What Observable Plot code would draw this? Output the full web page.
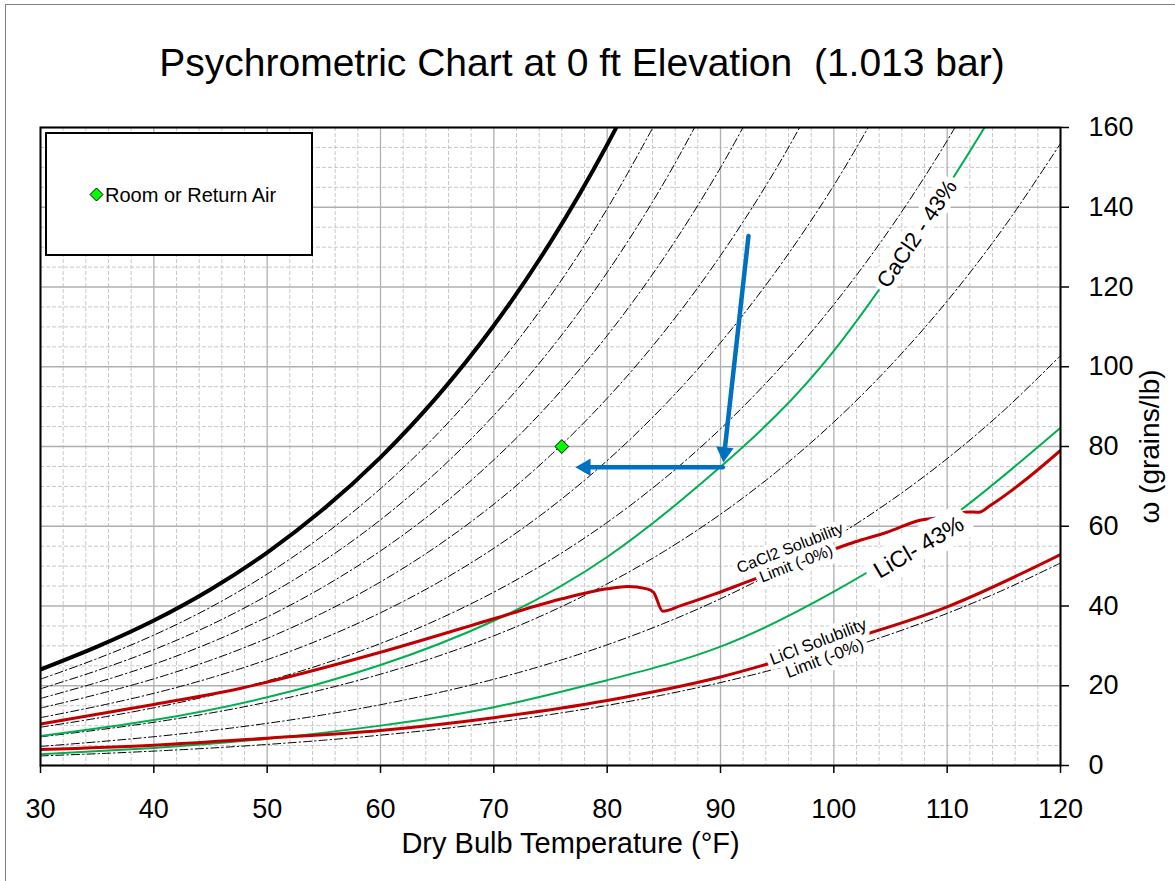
<!DOCTYPE html>
<html>
<head>
<meta charset="utf-8">
<script src="https://cdn.jsdelivr.net/npm/d3@7"></script>
<script src="https://cdn.jsdelivr.net/npm/@observablehq/plot@0.6"></script>
<style>
  html, body { margin: 0; padding: 0; background: #fff; }
  #wrap { position: relative; width: 1175px; height: 881px; overflow: hidden; font-family: "Liberation Sans", Arial, sans-serif; }
  #border { position: absolute; left: 5px; top: 4px; width: 1200px; height: 1000px; border-top: 1.5px solid #808080; border-left: 1.5px solid #808080; pointer-events: none; }
  #title { position: relative; height: 100px; }
  #title span { position: absolute; left: 0; width: 1164px; top: 43px; text-align: center; font-size: 39px; line-height: 39px; color: #000; white-space: pre; }
  #legend { position: absolute; left: 45px; top: 132px; width: 264px; height: 120px; border: 2.5px solid #000; background: #fff; z-index: 2; }
  #legend .item { position: absolute; left: 42px; top: 49px; font-size: 20px; line-height: 24px; color: #000; white-space: nowrap; }
  #legend svg { vertical-align: middle; margin-right: 1px; position: relative; top: -2px; }
  #chart svg { display: block; }
</style>
</head>
<body>
<div id="wrap">
  <div id="border"></div>
  <div id="title"><span>Psychrometric Chart at 0 ft Elevation  (1.013 bar)</span></div>
  <div id="chart"></div>
  <div id="legend"><div class="item"><svg width="15" height="15" viewBox="0 0 15 15"><path d="M7.5 1 L14 7.5 L7.5 14 L1 7.5 Z" fill="#00ff00" stroke="#000" stroke-width="1"/></svg>Room or Return Air</div></div>
</div>
<script>
// ---------- data ----------
const titleText = "Psychrometric Chart at 0 ft Elevation  (1.013 bar)";
const xLabel = "Dry Bulb Temperature (°F)";
const yLabel = "ω (grains/lb)";
const xTicks = [30, 40, 50, 60, 70, 80, 90, 100, 110, 120];
const yTicks = [0, 20, 40, 60, 80, 100, 120, 140, 160];

// dry-bulb temperatures (°F) for the relative-humidity lines
const temps = [30, 35, 40, 45, 50, 55, 60, 65, 70, 75, 80, 85, 90, 95, 100, 105, 110, 115, 120];
// humidity ratio (grains/lb) along each RH line
const rh10 = [2.40, 2.96, 3.61, 4.37, 5.28, 6.35, 7.61, 9.08, 10.79, 12.78, 15.08, 17.74, 20.80, 24.32, 28.34, 32.93, 38.15, 44.07, 50.79];
const rh20 = [4.79, 5.93, 7.22, 8.76, 10.58, 12.72, 15.24, 18.19, 21.63, 25.63, 30.27, 35.63, 41.81, 48.91, 57.05, 66.36, 76.96, 89.03, 102.78];
const rh30 = [7.19, 8.90, 10.84, 13.15, 15.89, 19.11, 22.90, 27.34, 32.52, 38.56, 45.56, 53.66, 63.01, 73.78, 86.13, 100.30, 116.47, 134.94, 156.00];
const rh40 = [9.60, 11.87, 14.47, 17.55, 21.21, 25.52, 30.59, 36.53, 43.47, 51.56, 60.96, 71.85, 84.42, 98.92, 115.61, 134.76, 156.70, 181.79];
const rh50 = [12.00, 14.85, 18.10, 21.96, 26.54, 31.95, 38.30, 45.76, 54.48, 64.64, 76.47, 90.18, 106.03, 124.36, 145.48, 169.76];
const rh60 = [14.41, 17.83, 21.74, 26.38, 31.89, 38.39, 46.04, 55.03, 65.54, 77.80, 92.08, 108.66, 127.87, 150.09, 175.74];
const rh70 = [16.82, 20.82, 25.39, 30.81, 37.25, 44.86, 53.81, 64.34, 76.65, 91.04, 107.81, 127.30, 149.91, 176.11];
const rh80 = [19.24, 23.81, 29.04, 35.24, 42.63, 51.34, 61.61, 73.69, 87.82, 104.36, 123.65, 146.10, 172.18];
const rh90 = [21.65, 26.80, 32.70, 39.69, 48.01, 57.85, 69.43, 83.07, 99.05, 117.76, 139.61, 165.06];
const rh100 = [24.07, 29.80, 36.36, 44.14, 53.41, 64.37, 77.28, 92.50, 110.33, 131.24, 155.67, 184.17];

// CaCl2 - 43% equilibrium (green, upper)
const caCl2Temps = [30, 40, 50, 60, 70, 80, 90, 100, 110, 115];
const caCl2Omega = [7.4, 11.4, 17.1, 25.2, 36.3, 52.3, 74.9, 104.0, 145.0, 168.0];
// LiCl - 43% equilibrium (green, lower)
const liClTemps = [30, 40, 50, 60, 70, 80, 90, 100, 110, 120];
const liClOmega = [2.8, 4.4, 6.7, 10.0, 14.6, 21.4, 29.8, 43.6, 61.5, 84.7];
// CaCl2 solubility limit (red, upper)
const caSolTemps = [30, 40, 47.6, 50, 60, 70, 76, 80, 81.8, 83.5, 84.1, 84.9, 86.5, 89.4, 92.4, 97, 101.9, 104.7, 107.6, 110, 111.8, 112.8, 113.8, 116.8, 120];
const caSolOmega = [10.4, 15.3, 19.3, 20.9, 28.4, 36.8, 41.8, 44.3, 44.9, 44.3, 43.4, 38.7, 40.1, 42.9, 46.1, 51.0, 56.1, 58.5, 61.5, 62.4, 63.6, 63.5, 65.2, 71.4, 79.0];
// LiCl solubility limit (red, lower)
const liSolTemps = [30, 40, 50, 60, 70, 80, 90, 100, 110, 120];
const liSolOmega = [4.0, 5.1, 6.85, 8.8, 12.0, 16.3, 22.2, 30.5, 39.8, 52.9];

// room / return air point
const roomT = [76];
const roomW = [80];
// process arrows (start -> end)
const arrowX1 = [92.47, 90.2];
const arrowY1 = [132.8, 74.8];
const arrowX2 = [90.25, 77.2];
const arrowY2 = [76.0, 74.8];

// curve labels
const labelTexts = ["CaCl2 - 43%", "LiCl- 43%", "CaCl2 Solubility\nLimit (-0%)", "LiCl Solubility\nLimit (-0%)"];
const labelT = [107.35, 107.5, 96.4, 98.9];
const labelW = [133.3, 54.7, 52.6, 29.0];

// ---------- build tables ----------
const rhSets = [["10%", rh10], ["20%", rh20], ["30%", rh30], ["40%", rh40], ["50%", rh50], ["60%", rh60], ["70%", rh70], ["80%", rh80], ["90%", rh90]];
const rhRows = rhSets.flatMap(([rh, ws]) => ws.map((w, i) => ({rh, t: temps[i], w})));
const satRows = rh100.map((w, i) => ({t: temps[i], w}));
const zip = (ts, ws) => ts.map((t, i) => ({t, w: ws[i]}));
const caCl2Rows = zip(caCl2Temps, caCl2Omega);
const liClRows = zip(liClTemps, liClOmega);
const caSolRows = zip(caSolTemps, caSolOmega);
const liSolRows = zip(liSolTemps, liSolOmega);
const roomRows = zip(roomT, roomW);
const arrows = arrowX1.map((x1, i) => ({x1, y1: arrowY1[i], x2: arrowX2[i], y2: arrowY2[i]}));
const labels = labelTexts.map((text, i) => ({text, t: labelT[i], w: labelW[i]}));

const minorX = d3.range(30, 121, 2).filter(d => d % 10 !== 0);
const minorY = d3.range(0, 161, 5).filter(d => d % 20 !== 0);

const blue = "#0070C0";
const green = "#00B050";
const red = "#C00000";
const halo = {fill: "black", stroke: "white", strokeLinejoin: "round", textAnchor: "middle", lineAnchor: "middle"};

const chart = Plot.plot({
  width: 1175,
  height: 781,
  marginTop: 27,
  marginBottom: 116,
  marginLeft: 40,
  marginRight: 115,
  style: {fontFamily: "'Liberation Sans', Arial, sans-serif", color: "black", background: "transparent"},
  x: {domain: [30, 120], axis: null},
  y: {domain: [0, 160], axis: null},
  marks: [
    Plot.gridX(minorX, {stroke: "#c8c8c8", strokeOpacity: 1, strokeWidth: 1, strokeDasharray: "4,2"}),
    Plot.gridY(minorY, {stroke: "#c8c8c8", strokeOpacity: 1, strokeWidth: 1, strokeDasharray: "4,2"}),
    Plot.gridX(xTicks, {stroke: "#b0b0b0", strokeOpacity: 1, strokeWidth: 1.3}),
    Plot.gridY(yTicks, {stroke: "#b0b0b0", strokeOpacity: 1, strokeWidth: 1.3}),
    Plot.line(rhRows, {x: "t", y: "w", z: "rh", stroke: "black", strokeWidth: 1, strokeDasharray: "8,3,1.5,3", curve: "catmull-rom", clip: true}),
    Plot.line(liClRows, {x: "t", y: "w", stroke: green, strokeWidth: 2, curve: "natural", clip: true}),
    Plot.line(caCl2Rows, {x: "t", y: "w", stroke: green, strokeWidth: 2, curve: "natural", clip: true}),
    Plot.line(liSolRows, {x: "t", y: "w", stroke: red, strokeWidth: 3, curve: "monotone-x", clip: true}),
    Plot.line(caSolRows, {x: "t", y: "w", stroke: red, strokeWidth: 3, curve: "monotone-x", clip: true}),
    Plot.line(satRows, {x: "t", y: "w", stroke: "black", strokeWidth: 4, curve: "catmull-rom", clip: true}),
    Plot.text(labels.slice(0, 1), {x: "t", y: "w", text: "text", rotate: -56, fontSize: 22, strokeWidth: 12, ...halo}),
    Plot.text(labels.slice(1, 2), {x: "t", y: "w", text: "text", rotate: -30.5, fontSize: 23, strokeWidth: 20, ...halo}),
    Plot.text(labels.slice(2, 3), {x: "t", y: "w", text: "text", rotate: -21.3, fontSize: 16, lineHeight: 1.05, strokeWidth: 10, ...halo}),
    Plot.text(labels.slice(3, 4), {x: "t", y: "w", text: "text", rotate: -21, fontSize: 17, lineHeight: 1.05, strokeWidth: 10, ...halo}),
    Plot.arrow(arrows, {x1: "x1", y1: "y1", x2: "x2", y2: "y2", stroke: blue, strokeWidth: 4.5, headLength: 0, insetEnd: 11}),
    Plot.dot(arrows.slice(0, 1), {x: "x2", y: "y2", symbol: "triangle", r: 6.5, fill: blue, stroke: "none", rotate: 186, dx: 1.07, dy: -10.04}),
    Plot.dot(arrows.slice(1, 2), {x: "x2", y: "y2", symbol: "triangle", r: 6.5, fill: blue, stroke: "none", rotate: -90, dx: 10.1}),
    Plot.dot(roomRows, {x: "t", y: "w", symbol: "diamond2", r: 6.2, fill: "#00ff00", stroke: "black", strokeWidth: 1}),
    Plot.frame({stroke: "black", strokeWidth: 2}),
    Plot.axisX(xTicks, {anchor: "bottom", tickSize: 8, tickPadding: 25, fontSize: 27, strokeWidth: 1.5, label: null}),
    Plot.axisY(yTicks, {anchor: "right", tickSize: 8, tickPadding: 20, fontSize: 27, strokeWidth: 1.5, label: null}),
    Plot.text([xLabel], {frameAnchor: "bottom", dy: 78, dx: 20, fontSize: 29, textAnchor: "middle", lineAnchor: "middle"}),
    Plot.text([yLabel], {frameAnchor: "right", dx: 90, rotate: -90, fontSize: 28, textAnchor: "middle", lineAnchor: "middle"})
  ]
});
document.querySelector("#title span").textContent = titleText;
document.getElementById("chart").appendChild(chart);
</script>
</body>
</html>
